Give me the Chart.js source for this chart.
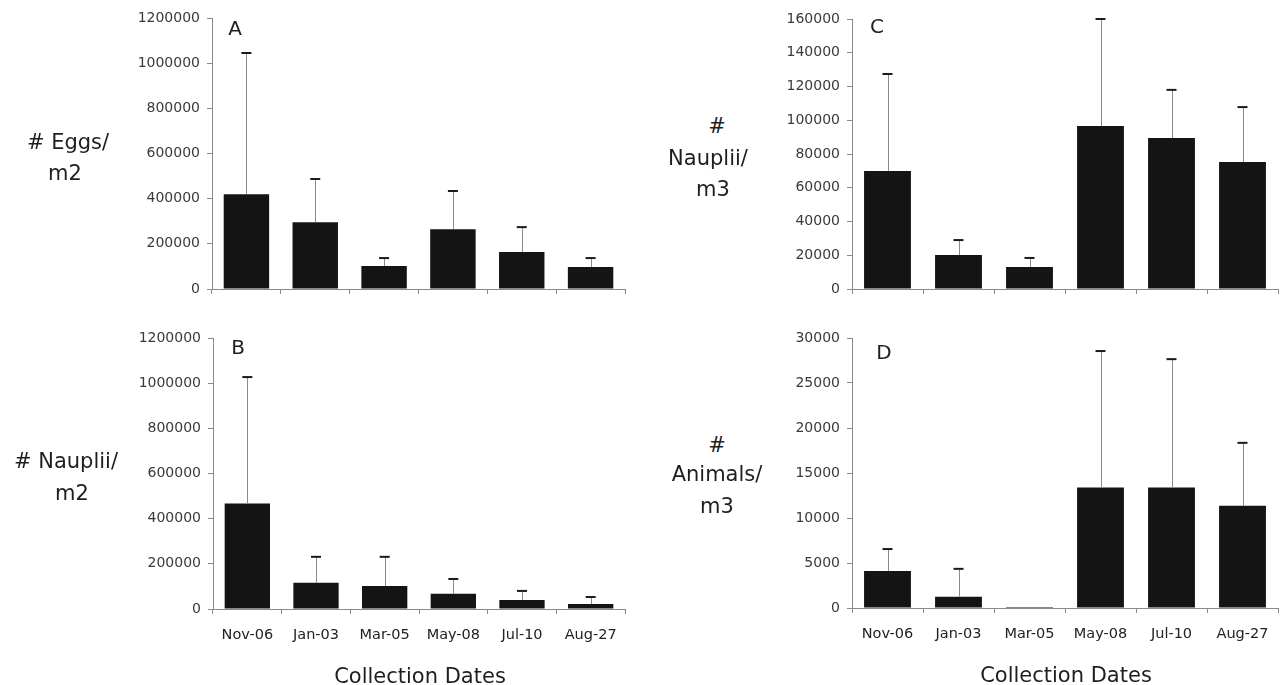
<!DOCTYPE html>
<html>
<head>
<meta charset="utf-8">
<script src="https://cdn.jsdelivr.net/npm/chart.js@4/dist/chart.umd.min.js"></script>
<style>
  html, body { margin:0; padding:0; background:#fff; }
  body { width:1284px; height:685px; position:relative; overflow:hidden; font-family:'DejaVu Sans', sans-serif; }
  canvas { position:absolute; }
  .lbl { position:absolute; transform:translate(-50%,-50%); white-space:nowrap; color:#1e1e1e; font-family:'DejaVu Sans', sans-serif; }
</style>
</head>
<body>
<canvas id="cA" width="540" height="320" style="left:100px;top:0px;"></canvas>
<canvas id="cB" width="540" height="365" style="left:100px;top:320px;"></canvas>
<canvas id="cC" width="544" height="320" style="left:740px;top:0px;"></canvas>
<canvas id="cD" width="544" height="365" style="left:740px;top:320px;"></canvas>
<script>
// ---- data ----
const categories = ['Nov-06', 'Jan-03', 'Mar-05', 'May-08', 'Jul-10', 'Aug-27'];

const eggsM2Mean   = [420000, 296000, 102000, 265000, 164000, 97000];
const eggsM2Upper  = [1045000, 487000, 137000, 434000, 274000, 137000];

const naupliiM2Mean  = [467000, 116000, 102000, 67000, 40000, 22000];
const naupliiM2Upper = [1027000, 231000, 231000, 133000, 80000, 53000];

const naupliiM3Mean  = [70000, 20100, 13000, 96600, 89500, 75300];
const naupliiM3Upper = [127400, 29000, 18400, 160000, 118000, 107800];

const animalsM3Mean  = [4100, 1250, 100, 13400, 13400, 11350];
const animalsM3Upper = [6550, 4350, null, 28550, 27650, 18350];

const ticksAB = [0, 200000, 400000, 600000, 800000, 1000000, 1200000];
const ticksC  = [0, 20000, 40000, 60000, 80000, 100000, 120000, 140000, 160000];
const ticksD  = [0, 5000, 10000, 15000, 20000, 25000, 30000];

const panelLetters = ['A', 'B', 'C', 'D'];
const yTitleA = ['# Eggs/', 'm2'];
const yTitleB = ['# Nauplii/', 'm2'];
const yTitleC = ['#', 'Nauplii/', 'm3'];
const yTitleD = ['#', 'Animals/', 'm3'];
const xTitle = 'Collection Dates';

// ---- error bar plugin ----
const errorBars = {
  id: 'errorBars',
  afterDatasetsDraw(chart, args, opts) {
    const upper = opts.upper || [];
    const meta = chart.getDatasetMeta(0);
    const ys = chart.scales.y;
    const ctx = chart.ctx;
    ctx.save();
    meta.data.forEach((bar, i) => {
      const u = upper[i];
      if (u === null || u === undefined) return;
      const yTop = ys.getPixelForValue(u);
      ctx.strokeStyle = '#8a8a8a';
      ctx.lineWidth = 1;
      ctx.beginPath();
      ctx.moveTo(Math.round(bar.x) + 0.5, bar.y);
      ctx.lineTo(Math.round(bar.x) + 0.5, yTop);
      ctx.stroke();
      ctx.strokeStyle = '#1a1a1a';
      ctx.lineWidth = 2;
      ctx.beginPath();
      ctx.moveTo(bar.x - 5, yTop);
      ctx.lineTo(bar.x + 5, yTop);
      ctx.stroke();
    });
    ctx.restore();
  }
};

function makePanel(id, values, upper, tickVals, opts) {
  new Chart(document.getElementById(id), {
    type: 'bar',
    data: {
      labels: categories,
      datasets: [{
        data: values,
        backgroundColor: '#141414',
        borderWidth: 0,
        barPercentage: 0.66,
        categoryPercentage: 1.0
      }]
    },
    options: {
      responsive: false,
      animation: false,
      events: [],
      layout: { padding: { top: opts.padTop, right: opts.padRight, left: 0, bottom: 0 } },
      plugins: {
        legend: { display: false },
        tooltip: { enabled: false },
        errorBars: { upper: upper }
      },
      scales: {
        x: {
          offset: true,
          border: { color: '#8a8a8a', width: 1 },
          grid: { offset: true, drawOnChartArea: false, drawTicks: true, tickLength: 5, color: '#8a8a8a' },
          ticks: {
            display: opts.showX,
            color: '#222',
            padding: 13,
            maxRotation: 0,
            font: { family: "'DejaVu Sans'", size: 14.5 }
          },
          afterFit(scale) { scale.height = opts.xHeight; }
        },
        y: {
          min: tickVals[0],
          max: tickVals[tickVals.length - 1],
          border: { color: '#8a8a8a', width: 1 },
          grid: { drawOnChartArea: false, drawTicks: true, tickLength: 5, color: '#8a8a8a' },
          ticks: {
            color: '#3a3a3a',
            padding: 7,
            font: { family: "'DejaVu Sans'", size: 14 },
            callback: (v) => String(v)
          },
          afterBuildTicks(scale) { scale.ticks = tickVals.map(v => ({ value: v })); },
          afterFit(scale) { scale.width = opts.yWidth; }
        }
      }
    },
    plugins: [errorBars]
  });
}

makePanel('cA', eggsM2Mean, eggsM2Upper, ticksAB, { padTop: 18, padRight: 15, xHeight: 31, yWidth: 112, showX: false });
makePanel('cB', naupliiM2Mean, naupliiM2Upper, ticksAB, { padTop: 18, padRight: 15, xHeight: 76, yWidth: 113, showX: true });
makePanel('cC', naupliiM3Mean, naupliiM3Upper, ticksC, { padTop: 19, padRight: 6, xHeight: 31, yWidth: 112, showX: false });
makePanel('cD', animalsM3Mean, animalsM3Upper, ticksD, { padTop: 18, padRight: 6, xHeight: 77, yWidth: 112, showX: true });

// ---- text labels ----
function addLabel(text, x, y, size) {
  const d = document.createElement('div');
  d.className = 'lbl';
  d.textContent = text;
  d.style.left = x + 'px';
  d.style.top = y + 'px';
  d.style.fontSize = size + 'px';
  document.body.appendChild(d);
}
addLabel(panelLetters[0], 235, 28, 20);
addLabel(panelLetters[1], 238, 347, 20);
addLabel(panelLetters[2], 877, 26, 20);
addLabel(panelLetters[3], 884, 352, 20);

addLabel(yTitleA[0], 68, 142, 21);
addLabel(yTitleA[1], 65, 173, 21);
addLabel(yTitleB[0], 66, 461, 21);
addLabel(yTitleB[1], 72, 493, 21);
addLabel(yTitleC[0], 717, 126, 21);
addLabel(yTitleC[1], 708, 158, 21);
addLabel(yTitleC[2], 713, 189, 21);
addLabel(yTitleD[0], 717, 445, 21);
addLabel(yTitleD[1], 717, 474, 21);
addLabel(yTitleD[2], 717, 506, 21);

addLabel(xTitle, 420, 676, 21);
addLabel(xTitle, 1066, 675, 21);
</script>
</body>
</html>
